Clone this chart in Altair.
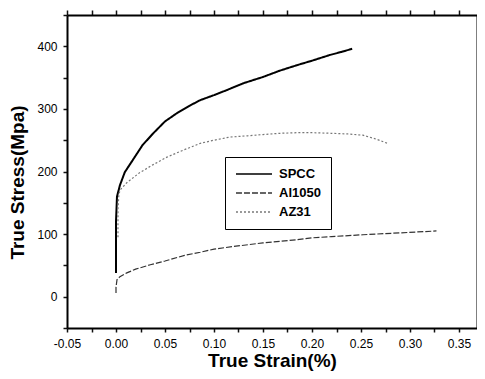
import altair as alt
import pandas as pd

spcc_strain = [0.000, 0.000, 0.001, 0.004, 0.009, 0.017, 0.027, 0.038, 0.050, 0.062, 0.075, 0.086, 0.100, 0.113, 0.130, 0.150, 0.167, 0.185, 0.200, 0.218, 0.230, 0.241]
spcc_stress = [38, 120, 160, 178, 199, 218, 242, 261, 280, 293, 305, 314, 322, 330, 341, 351, 361, 370, 377, 386, 391, 396]

al_strain = [0.000, 0.000, 0.001, 0.004, 0.011, 0.020, 0.035, 0.050, 0.070, 0.086, 0.100, 0.119, 0.150, 0.185, 0.200, 0.220, 0.252, 0.290, 0.327]
al_stress = [6, 15, 27, 32, 38, 44, 51, 57, 66, 71, 76, 80, 86, 91, 94, 96, 99, 102, 105]

az_strain = [0.002, 0.002, 0.003, 0.005, 0.011, 0.024, 0.038, 0.052, 0.070, 0.086, 0.100, 0.116, 0.134, 0.150, 0.167, 0.185, 0.201, 0.220, 0.236, 0.252, 0.265, 0.277]
az_stress = [95, 140, 165, 172, 182, 198, 211, 223, 235, 245, 250, 255, 257, 259, 261, 262, 262, 261, 260, 258, 252, 245]

series = ["SPCC", "Al1050", "AZ31"]
widths = {"SPCC": 2.0, "Al1050": 1.2, "AZ31": 1.2}

rows = []
for name, xs, ys in [("SPCC", spcc_strain, spcc_stress), ("Al1050", al_strain, al_stress), ("AZ31", az_strain, az_stress)]:
    for i, (a, b) in enumerate(zip(xs, ys)):
        rows.append({"series": name, "strain": a, "stress": b, "idx": i, "sw": widths[name]})
df = pd.DataFrame(rows)

FONT = "Liberation Sans"
TC = "#111111"
x_vals = [round(-0.05 + 0.025 * i, 3) for i in range(18)]
y_vals = [-50 + 50 * i for i in range(11)]

PW, PH = 410, 313
x_scale = alt.Scale(domain=[-0.05, -0.05 + PW / 980.0], nice=False, zero=False)
y_scale = alt.Scale(domain=[-50, 450], nice=False, zero=False)

x_axis = alt.Axis(
    orient="bottom", values=x_vals, grid=False, labelFlush=False, labelOverlap=False,
    labelExpr="abs(round(datum.value*40)) % 2 == 1 ? '' : replace(format(datum.value, '.2f'), '\u2212', '-')",
    ticks=True, tickSize=4,
    tickColor=TC, domainColor="black", domainWidth=2, tickWidth=1.5,
    labelFont=FONT, labelFontSize=12, labelColor="black", labelPadding=6,
    title="True Strain(%)", titleFont=FONT, titleFontSize=19, titleFontWeight="bold",
    titleColor="black", titleY=38, titleBaseline="alphabetic",
)
y_axis = alt.Axis(
    orient="left", values=y_vals, grid=False, labelFlush=False, labelOverlap=False,
    labelExpr="(datum.value % 100 == 0 && datum.value >= 0 && datum.value <= 400) ? format(datum.value, 'd') : ''",
    ticks=True, tickSize=4,
    tickColor=TC, domainColor="black", domainWidth=2, tickWidth=1.5,
    labelFont=FONT, labelFontSize=12, labelColor="black", labelPadding=6,
    title="True Stress(Mpa)", titleFont=FONT, titleFontSize=19, titleFontWeight="bold",
    titleColor="black", titleX=-59, titleY=167, titleBaseline="top", titleAngle=-90,
)

lines = alt.Chart(df).mark_line().encode(
    x=alt.X("strain:Q", scale=x_scale, axis=x_axis),
    y=alt.Y("stress:Q", scale=y_scale, axis=y_axis),
    color=alt.Color("series:N", scale=alt.Scale(domain=series, range=["#000000", "#333333", "#777777"]),
                    legend=alt.Legend(
                        title=None, orient="none", legendX=158, legendY=142,
                        strokeColor="black", padding=10, fillColor="white",
                        labelFont=FONT, labelFontSize=13, labelFontWeight="bold", labelColor="black",
                        symbolType="stroke", symbolSize=1300, symbolStrokeWidth=1.5,
                        clipHeight=14, rowPadding=5, labelOffset=6,
                    )),
    strokeDash=alt.StrokeDash("series:N", scale=alt.Scale(domain=series, range=[[1, 0], [6, 2], [2, 2]]), legend=None),
    strokeWidth=alt.StrokeWidth("sw:Q", scale=None, legend=None),
    order=alt.Order("idx:Q"),
)

mirror = alt.Chart(df).mark_point(opacity=0).encode(
    x=alt.X("strain:Q", scale=x_scale, axis=alt.Axis(
        orient="top", values=x_vals, labels=False, title=None, grid=False, ticks=True, tickSize=5,
        tickColor=TC, domainColor="black", domainWidth=2, tickWidth=1.5)),
    y=alt.Y("stress:Q", scale=y_scale, axis=alt.Axis(
        orient="right", labels=False, ticks=False, title=None, grid=False,
        domainColor="black", domainWidth=2)),
)

chart = alt.layer(lines, mirror).resolve_axis(x="independent", y="independent").properties(
    width=PW, height=PH,
    autosize=alt.AutoSizeParams(type="none"),
    padding={"left": 59, "top": 7, "right": 0, "bottom": 43},
).configure_view(stroke=None).configure(background="white")

chart.save("out.html", embed_options={"renderer": "svg", "actions": False})
